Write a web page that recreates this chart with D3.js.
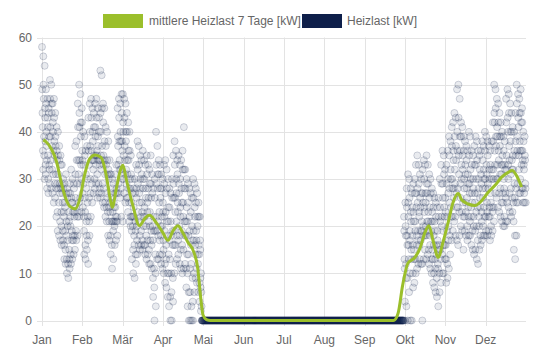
<!DOCTYPE html>
<html><head><meta charset="utf-8">
<script src="https://cdn.jsdelivr.net/npm/d3@7/dist/d3.min.js"></script>
<style>
body{margin:0;background:#fff}
svg{display:block}
text{font-family:"Liberation Sans",Arial,Helvetica,sans-serif}
</style>
</head><body>
<svg id="chart" width="550" height="358"></svg>
<script>
// ---------- DATA ----------
const monthLabels = ["Jan","Feb","Mär","Apr","Mai","Jun","Jul","Aug","Sep","Okt","Nov","Dez"];
const yTicks = [0,10,20,30,40,50,60];
const seriesNames = ["mittlere Heizlast 7 Tage [kW]","Heizlast [kW]"];

// Heizlast [kW], several readings per day, one inner list per day
const heizlastJan = [
[58,49,44,41,36,32],[56,50,47,39,35,30],[54,45,43,38,33,31],[49,46,40,37,34,28],[47,43,41,35,30,27],
[45,44,39,33,32,29],[51,47,41,39,34,28],[50,46,44,37,32,27],[46,42,40,36,31,25],[47,43,38,35,29,26],
[44,39,37,31,28,22],[41,36,34,29,23,19],[40,35,31,28,25,18],[37,34,29,27,21,17],[35,33,28,23,20,16],
[33,29,27,25,19,17],[30,28,23,22,16,13],[29,25,24,19,15,12],[31,27,21,18,13,10],[28,26,20,17,12,9],
[27,23,21,15,13,11],[29,27,22,20,14,12],[32,26,25,19,17,13],[30,25,23,18,17,14],[29,28,23,22,18,15],
[37,31,26,24,19,17],[38,34,29,23,22,18],[46,41,34,31,25,22],[50,44,41,34,29,26],[48,42,39,33,30,23],
[45,42,36,34,27,24]];
const heizlastFeb = [
[40,33,29,22,19,14],[39,35,26,23,16,13],[36,31,28,21,18,15],[37,30,25,22,17,12],[43,36,33,26,21,18],
[46,40,37,30,27,22],[47,43,36,34,29,25],[45,40,38,34,32,27],[44,41,35,34,30,28],[46,41,39,35,33,29],
[47,43,36,35,31,26],[45,39,37,34,29,27],[43,40,34,33,28,26],[53,44,40,35,32,27],[52,45,37,34,29,25],
[46,42,35,33,28,24],[45,38,34,31,25,22],[41,37,33,27,24,21],[40,34,31,26,23,18],[38,32,30,24,21,17],
[34,31,25,23,18,14],[31,27,26,21,16,11],[30,28,23,21,19,13],[29,25,24,21,20,16],[31,27,24,22,21,17],
[33,28,27,22,21,18],[45,39,37,33,29,27],[47,43,38,34,32,26]];
const heizlastMar = [
[46,40,38,32,28,22],[48,44,38,36,30,21],[48,42,40,35,30,27],[47,43,37,34,31,25],[46,40,38,32,29,26],
[44,40,34,31,26,23],[42,36,34,28,25,21],[40,36,30,28,22,20],[35,31,25,22,19,13],[30,27,22,20,15,10],
[28,24,22,18,16,9],[30,27,21,19,14,12],[33,28,26,20,17,14],[38,32,29,23,21,16],[37,33,27,25,18,15],
[35,30,28,22,19,16],[34,31,25,23,17,15],[36,30,28,22,20,16],[34,30,24,22,16,14],[33,28,26,20,18,13],
[35,31,25,23,17,14],[33,28,26,21,15,12],[32,29,23,20,17,12],[35,29,26,19,16,11],[31,27,20,17,9,5],
[28,22,19,11,7,0],[30,26,19,14,10,3],[40,33,29,22,19,13],[37,31,28,21,18,13],[34,31,25,23,17,14],
[33,28,26,20,18,12]];
const heizlastApr = [
[31,28,22,20,14,11],[30,25,23,17,15,10],[33,29,22,19,12,8],[34,27,23,16,13,7],[32,28,21,18,10,5],
[30,24,21,14,10,3],[28,24,17,13,5,0],[27,21,18,10,6,0],[30,26,19,16,9,4],[35,29,26,19,16,10],
[38,33,26,23,16,12],[36,30,27,21,18,13],[34,31,25,23,17,14],[35,29,27,20,18,12],[33,30,24,22,15,11],
[34,28,25,19,16,10],[36,32,25,22,15,11],[41,32,28,21,18,12],[32,28,21,18,11,7],[30,24,21,14,10,3],
[29,25,18,14,6,0],[28,22,19,11,6,0],[27,23,16,12,3,0],[26,20,17,9,4,0],[30,26,19,17,10,6],
[29,24,22,16,14,9],[28,25,19,17,11,8],[27,22,20,14,12,6],[25,22,16,14,8,4],[22,17,15,9,7,2]];
const heizlastMai = [
[10,6,3,0,0,0],[0,0,0,0],[0,0,0,0],[0,0,0,0],[0,0,0,0],[0,0,0,0],[0,0,0,0],[0,0,0,0],[0,0,0,0],[0,0,0,0],
[0,0,0,0],[0,0,0,0],[0,0,0,0],[0,0,0,0],[0,0,0,0],[0,0,0,0],[0,0,0,0],[0,0,0,0],[0,0,0,0],[0,0,0,0],
[0,0,0,0],[0,0,0,0],[0,0,0,0],[0,0,0,0],[0,0,0,0],[0,0,0,0],[0,0,0,0],[0,0,0,0],[0,0,0,0],[0,0,0,0],
[0,0,0,0]];
const heizlastJun = [
[0,0,0,0],[0,0,0,0],[0,0,0,0],[0,0,0,0],[0,0,0,0],[0,0,0,0],[0,0,0,0],[0,0,0,0],[0,0,0,0],[0,0,0,0],
[0,0,0,0],[0,0,0,0],[0,0,0,0],[0,0,0,0],[0,0,0,0],[0,0,0,0],[0,0,0,0],[0,0,0,0],[0,0,0,0],[0,0,0,0],
[0,0,0,0],[0,0,0,0],[0,0,0,0],[0,0,0,0],[0,0,0,0],[0,0,0,0],[0,0,0,0],[0,0,0,0],[0,0,0,0],[0,0,0,0]];
const heizlastJul = [
[0,0,0,0],[0,0,0,0],[0,0,0,0],[0,0,0,0],[0,0,0,0],[0,0,0,0],[0,0,0,0],[0,0,0,0],[0,0,0,0],[0,0,0,0],
[0,0,0,0],[0,0,0,0],[0,0,0,0],[0,0,0,0],[0,0,0,0],[0,0,0,0],[0,0,0,0],[0,0,0,0],[0,0,0,0],[0,0,0,0],
[0,0,0,0],[0,0,0,0],[0,0,0,0],[0,0,0,0],[0,0,0,0],[0,0,0,0],[0,0,0,0],[0,0,0,0],[0,0,0,0],[0,0,0,0],
[0,0,0,0]];
const heizlastAug = [
[0,0,0,0],[0,0,0,0],[0,0,0,0],[0,0,0,0],[0,0,0,0],[0,0,0,0],[0,0,0,0],[0,0,0,0],[0,0,0,0],[0,0,0,0],
[0,0,0,0],[0,0,0,0],[0,0,0,0],[0,0,0,0],[0,0,0,0],[0,0,0,0],[0,0,0,0],[0,0,0,0],[0,0,0,0],[0,0,0,0],
[0,0,0,0],[0,0,0,0],[0,0,0,0],[0,0,0,0],[0,0,0,0],[0,0,0,0],[0,0,0,0],[0,0,0,0],[0,0,0,0],[0,0,0,0],
[0,0,0,0]];
const heizlastSep = [
[0,0,0,0],[0,0,0,0],[0,0,0,0],[0,0,0,0],[0,0,0,0],[0,0,0,0],[0,0,0,0],[0,0,0,0],[0,0,0,0],[0,0,0,0],
[0,0,0,0],[0,0,0,0],[0,0,0,0],[0,0,0,0],[0,0,0,0],[0,0,0,0],[0,0,0,0],[0,0,0,0],[0,0,0,0],[0,0,0,0],
[0,0,0,0],[0,0,0,0],[0,0,0,0],[0,0,0,0],[0,0,0,0],[0,0,0,0],[0,0,0,0],[0,0,0,0],[0,0,0,0],[0,0,0,0]];
const heizlastOkt = [
[22,19,13,11,4,0],[25,20,18,12,9,3],[28,24,18,16,9,0],[31,25,22,16,13,6],[30,26,19,17,10,0],
[28,23,21,15,13,0],[27,24,18,16,10,7],[29,23,21,15,13,8],[30,27,21,19,13,10],[33,27,24,18,16,11],
[35,28,25,19,17,12],[33,29,23,22,16,13],[31,26,24,19,17,12],[30,27,21,19,12,0],[32,27,25,20,18,13],
[34,30,24,23,18,15],[33,27,25,20,18,13],[35,29,27,21,19,14],[33,29,23,21,15,12],[31,26,24,18,16,11],
[30,27,21,19,13,10],[28,23,21,15,13,8],[27,24,18,16,10,7],[26,21,19,13,11,6],[25,22,16,14,9,5],
[24,19,17,12,11,3],[26,22,16,15,10,6],[30,24,21,15,13,8],[33,29,22,20,14,10],[36,29,26,19,16,10],
[35,31,24,22,16,13]];
const heizlastNov = [
[32,26,23,16,13,8],[33,29,22,19,12,9],[36,30,27,20,17,11],[39,35,28,25,18,14],[38,32,30,24,22,17],
[41,37,30,28,22,19],[42,36,34,28,26,21],[44,39,32,29,22,18],[43,37,34,27,24,17],[49,40,36,28,24,16],
[50,43,35,31,23,18],[47,39,36,29,26,20],[42,39,33,30,23,19],[41,35,32,25,22,15],[39,36,30,28,22,19],
[38,33,31,25,23,18],[37,34,28,26,20,17],[36,31,29,24,22,18],[40,35,29,27,21,18],[39,32,30,24,22,16],
[36,33,27,25,19,15],[35,30,28,22,20,14],[37,33,27,25,19,15],[39,33,30,23,20,13],[38,34,27,24,17,12],
[36,30,28,22,20,15],[35,32,26,24,18,16],[36,31,29,23,21,17],[38,34,28,26,20,18],[37,32,30,24,22,18]];
const heizlastDez = [
[40,36,30,28,22,19],[39,33,31,25,23,18],[38,35,29,28,22,19],[37,32,30,24,22,17],[36,33,27,25,20,18],
[38,32,30,24,23,19],[42,38,32,30,24,21],[50,44,42,36,33,27],[49,45,39,37,30,26],[47,41,39,33,30,24],
[46,42,36,34,27,23],[44,39,37,31,28,22],[42,39,33,31,25,21],[40,35,33,27,25,20],[39,36,30,28,22,20],
[38,33,32,27,26,21],[47,42,35,32,25,21],[49,43,40,33,30,24],[48,44,37,34,27,23],[46,40,38,31,28,22],
[44,40,34,32,26,23],[41,35,32,25,21,15],[40,36,29,26,18,13],[44,38,35,28,25,18],[50,46,39,36,29,25],
[48,43,41,35,32,27],[47,44,38,36,30,27],[49,44,42,36,33,28],[45,42,36,34,28,25],[40,38,33,32,27,25],
[39,35,34,29,28,25]];

// 7-day mean: day of year and value [kW]
const mittelTag = [1,3,7,11,14.5,18,21,25,28.5,32,36,40,44.5,48.5,51,53,56,59.5,61,63.5,68.5,73.5,77.5,81,86,91,95,99,102.5,106,110,114.5,117.5,119.5,121.5,124,127,
  265,268.5,272,276,281,285,289,291.8,295,298.8,302.6,306.3,310,313.9,316.4,321.4,326.5,331.5,336.5,341.5,346.6,351.6,354.6,357.9,361.7];
const mittelWert = [38.3,37.9,36.4,33.6,29.3,25.8,24.2,23.7,25.8,30.7,34.3,35.1,34.6,30.7,26.5,24,27.9,32.2,32.9,30,24.4,20.1,21.6,22.3,20.8,18.7,17,19.1,20.1,18.7,16.6,14.5,11,5.3,1.1,0.2,0,
  0,1.5,7.5,12.2,13.3,15.3,18.8,20.1,16.8,13.4,16.8,20.8,25,26.9,25.6,24.7,24.4,25.4,27.2,28.6,30.4,31.4,31.8,30.7,28.3];

const colorMean = "#9bbf2b";
const colorLoad = "#0e1f4a";

// ---------- CHART ----------
const svg = d3.select("#chart");
const hoursPerYear = 8760;
const x = d3.scaleLinear().domain([0, hoursPerYear]).range([42, 526]);
const y = d3.scaleLinear().domain([0, 60]).range([320.5, 37.5]);
const monthTicks = monthLabels.map((m, i) => i * hoursPerYear / 12);

const grid = svg.append("g");
grid.selectAll("line.h").data(yTicks).join("line")
  .attr("x1", 37).attr("x2", 526)
  .attr("y1", d => Math.round(y(d)) + 0.5).attr("y2", d => Math.round(y(d)) + 0.5)
  .attr("stroke", "#e3e3e3").attr("stroke-width", 1);
grid.selectAll("line.v").data(monthTicks).join("line")
  .attr("x1", d => Math.round(x(d)) + 0.5).attr("x2", d => Math.round(x(d)) + 0.5)
  .attr("y1", y(60)).attr("y2", 326)
  .attr("stroke", "#e3e3e3").attr("stroke-width", 1);

svg.append("g").selectAll("text").data(yTicks).join("text")
  .attr("x", 32).attr("y", d => y(d)).attr("dy", "0.35em")
  .attr("text-anchor", "end").attr("font-size", 12).attr("fill", "#666")
  .text(d => d);
svg.append("g").selectAll("text").data(monthTicks).join("text")
  .attr("x", d => x(d)).attr("y", 344)
  .attr("text-anchor", "middle").attr("font-size", 12).attr("fill", "#666")
  .text((d, i) => monthLabels[i]);

// scatter points
const monthsData = [heizlastJan,heizlastFeb,heizlastMar,heizlastApr,heizlastMai,heizlastJun,heizlastJul,heizlastAug,heizlastSep,heizlastOkt,heizlastNov,heizlastDez];
const points = [];
let dayIndex = 0;
monthsData.forEach(month => {
  month.forEach(vals => {
    vals.forEach((v, j) => points.push({h: dayIndex * 24 + j * 24 / vals.length, v}));
    dayIndex++;
  });
});
svg.append("g").selectAll("circle").data(points).join("circle")
  .attr("cx", d => x(d.h)).attr("cy", d => y(d.v)).attr("r", 3.5)
  .attr("fill", colorLoad).attr("fill-opacity", 0.09)
  .attr("stroke", colorLoad).attr("stroke-opacity", 0.19).attr("stroke-width", 1);

// mean line
const meanData = mittelTag.map((t, i) => ({h: t * 24, v: mittelWert[i]}));
svg.append("path").datum(meanData)
  .attr("fill", "none").attr("stroke", colorMean).attr("stroke-width", 3)
  .attr("stroke-linejoin", "round")
  .attr("d", d3.line().x(d => x(d.h)).y(d => y(d.v)).curve(d3.curveMonotoneX));

// legend
const legend = svg.append("g");
const legendItems = [
  {label: seriesNames[0], color: colorMean, bx: 103, tx: 149},
  {label: seriesNames[1], color: colorLoad, bx: 302, tx: 347}
];
legend.selectAll("rect").data(legendItems).join("rect")
  .attr("x", d => d.bx).attr("y", 14).attr("width", 40).attr("height", 14)
  .attr("fill", d => d.color);
legend.selectAll("text").data(legendItems).join("text")
  .attr("x", d => d.tx).attr("y", 21).attr("dy", "0.35em")
  .attr("font-size", 12).attr("fill", "#666")
  .text(d => d.label);
</script>
</body></html>
